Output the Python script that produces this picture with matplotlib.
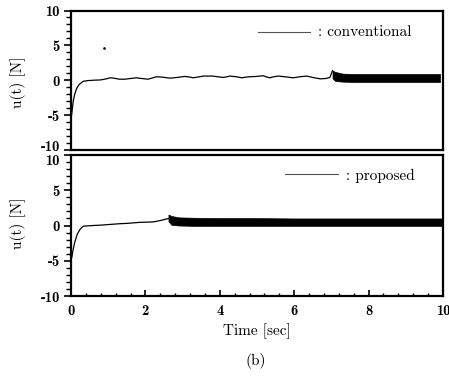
import matplotlib
matplotlib.use('Agg')
import matplotlib.pyplot as plt
from matplotlib.ticker import MultipleLocator
import matplotlib.transforms as mtransforms

plt.rcParams['font.family'] = ['cmr10', 'DejaVu Serif']
plt.rcParams['axes.unicode_minus'] = False
plt.rcParams['axes.formatter.use_mathtext'] = False

# ---- data ----
conv_t = [0.0, 0.03, 0.06, 0.1, 0.15, 0.22, 0.33, 0.45, 0.6, 0.8, 0.95, 1.05, 1.15,
          1.3, 1.45, 1.6, 1.76, 1.9, 2.07, 2.2, 2.3, 2.45, 2.66, 2.85, 3.06, 3.2,
          3.29, 3.45, 3.56, 3.8, 4.09, 4.2, 4.27, 4.45, 4.59, 4.7, 4.81, 5.0, 5.16,
          5.27, 5.35, 5.45, 5.57, 5.75, 5.97, 6.15, 6.34, 6.5, 6.7, 6.85, 6.96, 7.03]
conv_u = [-5.6, -4.4, -3.0, -2.0, -1.2, -0.6, -0.15, -0.05, 0.0, 0.05, 0.2, 0.35, 0.3,
          0.15, 0.15, 0.25, 0.35, 0.25, 0.15, 0.35, 0.5, 0.45, 0.3, 0.4, 0.55, 0.45,
          0.35, 0.5, 0.6, 0.6, 0.4, 0.5, 0.6, 0.5, 0.35, 0.45, 0.5, 0.55, 0.65,
          0.45, 0.35, 0.5, 0.6, 0.5, 0.35, 0.5, 0.6, 0.4, 0.2, 0.25, 0.4, 1.4]
conv_band_t = [7.03, 7.1, 7.3, 7.6, 8.0, 8.5, 9.0, 9.5, 9.92]
conv_band_hi = [1.4, 1.2, 0.95, 0.9, 0.9, 0.9, 0.9, 0.9, 0.9]
conv_band_lo = [0.3, -0.1, -0.2, -0.25, -0.25, -0.25, -0.25, -0.25, -0.25]

prop_t = [0.0, 0.02, 0.05, 0.1, 0.17, 0.25, 0.33, 0.45, 0.6, 0.8, 1.05, 1.3, 1.5,
          1.86, 2.2, 2.4, 2.55, 2.62]
prop_u = [-3.8, -4.6, -3.6, -2.4, -1.2, -0.5, -0.1, -0.05, 0.0, 0.05, 0.15, 0.25, 0.3,
          0.45, 0.5, 0.7, 0.9, 1.0]
prop_band_t = [2.62, 2.7, 2.9, 3.3, 4.0, 5.0, 6.0, 7.0, 8.0, 9.0, 10.0]
prop_band_hi = [1.55, 1.35, 1.15, 1.1, 1.05, 1.05, 1.0, 1.0, 1.0, 1.0, 1.0]
prop_band_lo = [0.6, 0.1, 0.0, -0.05, -0.05, -0.05, -0.05, -0.05, -0.05, -0.05, -0.05]

speck_t = [0.9]
speck_u = [4.6]

x_ticks = [0, 2, 4, 6, 8, 10]
y_ticks = [-10, -5, 0, 5, 10]

W, H = 449, 377
fig = plt.figure(figsize=(W / 100, H / 100), dpi=100)

def fx(px):
    return px / W

def fy(py):
    return 1 - py / H

left, right = fx(71), fx(443)
ax1 = fig.add_axes([left, fy(150), right - left, fy(10.5) - fy(150)])
ax2 = fig.add_axes([left, fy(296), right - left, fy(155) - fy(296)])

for ax in (ax1, ax2):
    ax.set_xlim(0, 10)
    ax.set_ylim(-10, 10)
    ax.set_yticks(y_ticks)
    ax.yaxis.set_minor_locator(MultipleLocator(1))
    ax.xaxis.set_minor_locator(MultipleLocator(0.4))
    ax.set_xticks(x_ticks)
    ax.tick_params(axis='y', which='major', direction='out', length=5, width=1.2,
                   labelsize=10.5, pad=3)
    ax.tick_params(axis='y', which='minor', direction='out', length=3.5, width=1.0)
    ax.tick_params(axis='x', which='major', direction='in', length=4, width=1.2,
                   labelsize=10.5, pad=6)
    ax.tick_params(axis='x', which='minor', direction='in', length=2.5, width=1.0)
    for s in ax.spines.values():
        s.set_linewidth(1.6)
    for lab in ax.get_yticklabels() + ax.get_xticklabels():
        lab.set_fontfamily(['cmb10', 'DejaVu Serif'])

ax1.tick_params(axis='x', which='both', bottom=False, labelbottom=False)

# nudge the stacked -10 / 10 labels apart as in the reference
lab_bot_top = ax1.get_yticklabels()[0]
lab_bot_top.set_transform(lab_bot_top.get_transform() +
                          mtransforms.ScaledTranslation(0, 3 / 72, fig.dpi_scale_trans))
lab_top_bot = ax2.get_yticklabels()[-1]
lab_top_bot.set_transform(lab_top_bot.get_transform() +
                          mtransforms.ScaledTranslation(0, -3 / 72, fig.dpi_scale_trans))

# top: conventional
ax1.plot(conv_t, conv_u, color='black', lw=0.9)
ax1.fill_between(conv_band_t, conv_band_lo, conv_band_hi, color='black', lw=0.5)
ax1.plot(speck_t, speck_u, 'o', color='black', ms=0.9)
ax1.plot([5.03, 6.42], [6.94, 6.94], color='#555555', lw=0.8)
ax1.text(6.64, 6.94, ': conventional', fontsize=11, va='center', ha='left')

# bottom: proposed
ax2.plot(prop_t, prop_u, color='black', lw=0.9)
ax2.fill_between(prop_band_t, prop_band_lo, prop_band_hi, color='black', lw=0.5)
ax2.plot([5.75, 7.18], [7.3, 7.3], color='#555555', lw=0.8)
ax2.text(7.39, 7.1, ': proposed', fontsize=11, va='center', ha='left')

fig.text(fx(18), fy(82), 'u(t) [N]', rotation=90, fontsize=11, ha='center', va='center')
fig.text(fx(18), fy(223), 'u(t) [N]', rotation=90, fontsize=11, ha='center', va='center')
fig.text(fx(257), fy(331), 'Time [sec]', fontsize=11, ha='center', va='center')
fig.text(fx(256), fy(361), '(b)', fontsize=11, ha='center', va='center')

fig.savefig('out.png', dpi=100)
